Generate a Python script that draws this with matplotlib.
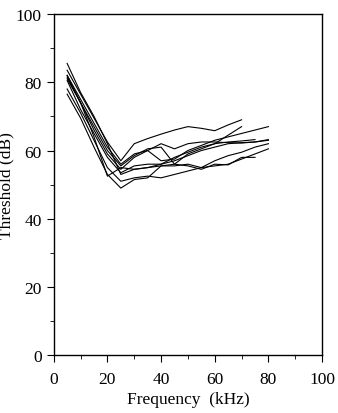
import numpy as np
import matplotlib.pyplot as plt
from matplotlib.ticker import MultipleLocator

plt.rcParams['font.family'] = ['Liberation Serif', 'DejaVu Serif']

nan = np.nan
freq = [5, 10, 15, 20, 25, 30, 35, 40, 45, 50, 55, 60, 65, 70, 75, 80]

# thresholds (dB) per animal
th1 = [83.5, 76.5, 69.5, 62.5, 57.0, 62.0, 63.5, 64.8, 66.0, 67.0, 66.5, 65.8, 67.5, 69.0, nan, nan]
th2 = [81.5, 74.0, 67.0, 60.0, 55.5, 58.5, 60.5, 61.0, 56.0, 59.0, 60.5, 62.0, 64.5, 67.0, nan, nan]
th3 = [82.0, 75.0, 68.0, 61.0, 56.0, 59.0, 60.0, 57.0, 57.5, 60.0, 61.5, 63.0, 64.0, 65.0, 66.0, 67.0]
th4 = [81.0, 74.0, 66.0, 59.0, 54.5, 58.0, 60.0, 62.0, 60.5, 62.0, 62.5, 62.5, 62.3, 62.2, 62.5, 63.2]
th5 = [80.5, 72.0, 65.0, 58.0, 53.5, 55.5, 56.0, 56.0, 58.0, 59.5, 61.0, 62.0, 62.5, 62.8, 63.2, nan]
th6 = [85.5, 77.0, 70.0, 62.0, 53.0, 54.5, 55.0, 55.5, 55.5, 56.0, 55.0, 57.0, 58.5, 59.5, 61.0, 62.0]
th7 = [78.0, 71.0, 63.0, 55.0, 51.0, 52.0, 52.5, 52.0, 53.0, 54.0, 55.0, 55.5, 56.0, 57.5, 59.0, 60.5]
th8 = [76.5, 69.5, 61.0, 53.0, 49.0, 51.5, 52.0, 55.5, 56.0, 55.5, 54.5, 56.0, 55.8, 58.0, 58.0, nan]
th9 = [82.0, 74.0, 64.0, 52.5, 55.0, 54.5, 55.0, 56.0, 57.0, 58.5, 60.0, 61.0, 62.0, 62.3, 62.5, 63.0]
animals = [th1, th2, th3, th4, th5, th6, th7, th8, th9]

fig = plt.figure(figsize=(3.38, 4.14), dpi=100)
ax = fig.add_axes([0.159, 0.139, 0.794, 0.825])

for th in animals:
    ax.plot(freq, th, color='black', linewidth=0.8)

ax.set_xlim(0, 100)
ax.set_ylim(0, 100)
ax.xaxis.set_major_locator(MultipleLocator(20))
ax.xaxis.set_minor_locator(MultipleLocator(10))
ax.yaxis.set_major_locator(MultipleLocator(20))
ax.yaxis.set_minor_locator(MultipleLocator(10))
ax.tick_params(which='both', direction='out', top=False, right=False, labelsize=12.5)
ax.tick_params(which='major', length=5)
ax.tick_params(which='minor', length=3)
ax.tick_params(axis='x', which='major', pad=6)
for s in ax.spines.values():
    s.set_linewidth(1.0)

ax.set_xlabel('Frequency  (kHz)', fontsize=12.5, labelpad=3)
ax.set_ylabel('Threshold (dB)', fontsize=12.5)
ax.yaxis.set_label_coords(-0.148, 0.5)

fig.savefig('out.png', dpi=100)
